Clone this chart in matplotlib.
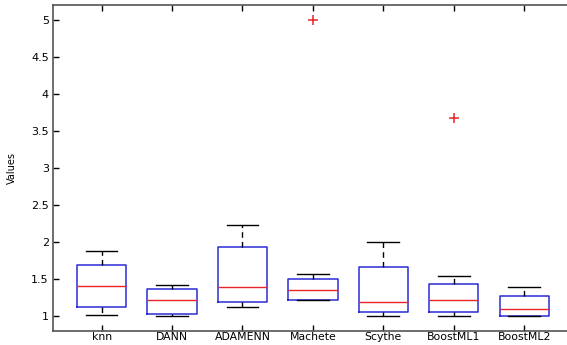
import numpy as np
import matplotlib.pyplot as plt
from matplotlib.ticker import FuncFormatter

methods = ['knn', 'DANN', 'ADAMENN', 'Machete', 'Scythe', 'BoostML1', 'BoostML2']
whislo = [1.01, 1.00, 1.13, 1.22, 1.00, 1.00, 1.00]
q1 = [1.13, 1.036, 1.185, 1.225, 1.063, 1.063, 1.00]
med = [1.41, 1.225, 1.40, 1.35, 1.19, 1.216, 1.095]
q3 = [1.687, 1.37, 1.93, 1.50, 1.666, 1.437, 1.275]
whishi = [1.876, 1.42, 2.23, 1.57, 2.00, 1.54, 1.40]
outliers = [[], [], [], [5.0], [], [3.68], []]

stats = []
for i, m in enumerate(methods):
    stats.append(dict(label=m, whislo=whislo[i], q1=q1[i], med=med[i],
                      q3=q3[i], whishi=whishi[i], fliers=outliers[i]))

fig = plt.figure(figsize=(5.67, 3.45), dpi=100)
ax = fig.add_axes([53/567, 14/345, 517/567, 326/345])

ax.bxp(stats, widths=0.7, capwidths=0.45,
       boxprops=dict(color='#2b2bd6', linewidth=1.1),
       medianprops=dict(color='#e8262a', linewidth=1.0),
       whiskerprops=dict(color='black', linewidth=1.0, linestyle=(0, (4, 3))),
       capprops=dict(color='black', linewidth=1.0),
       flierprops=dict(marker='+', markeredgecolor='#e8262a', markersize=7,
                       markeredgewidth=1.1))

ax.set_xlim(0.31, 7.65)
ax.set_ylim(0.8, 5.2)
ax.set_yticks(np.arange(1, 5.01, 0.5))
ax.yaxis.set_major_formatter(FuncFormatter(lambda v, p: '%g' % v))
ax.tick_params(direction='in', length=4, width=1, labelsize=8,
               top=True, right=False, pad=3)
ax.tick_params(axis='x', labelsize=7.8, pad=1)
for s in ['left', 'bottom', 'top']:
    ax.spines[s].set_color('#555555')
    ax.spines[s].set_linewidth(1.2)
ax.spines['right'].set_visible(False)
ax.set_ylabel('Values', fontsize=7, labelpad=10)

fig.savefig('out.png', dpi=100)
